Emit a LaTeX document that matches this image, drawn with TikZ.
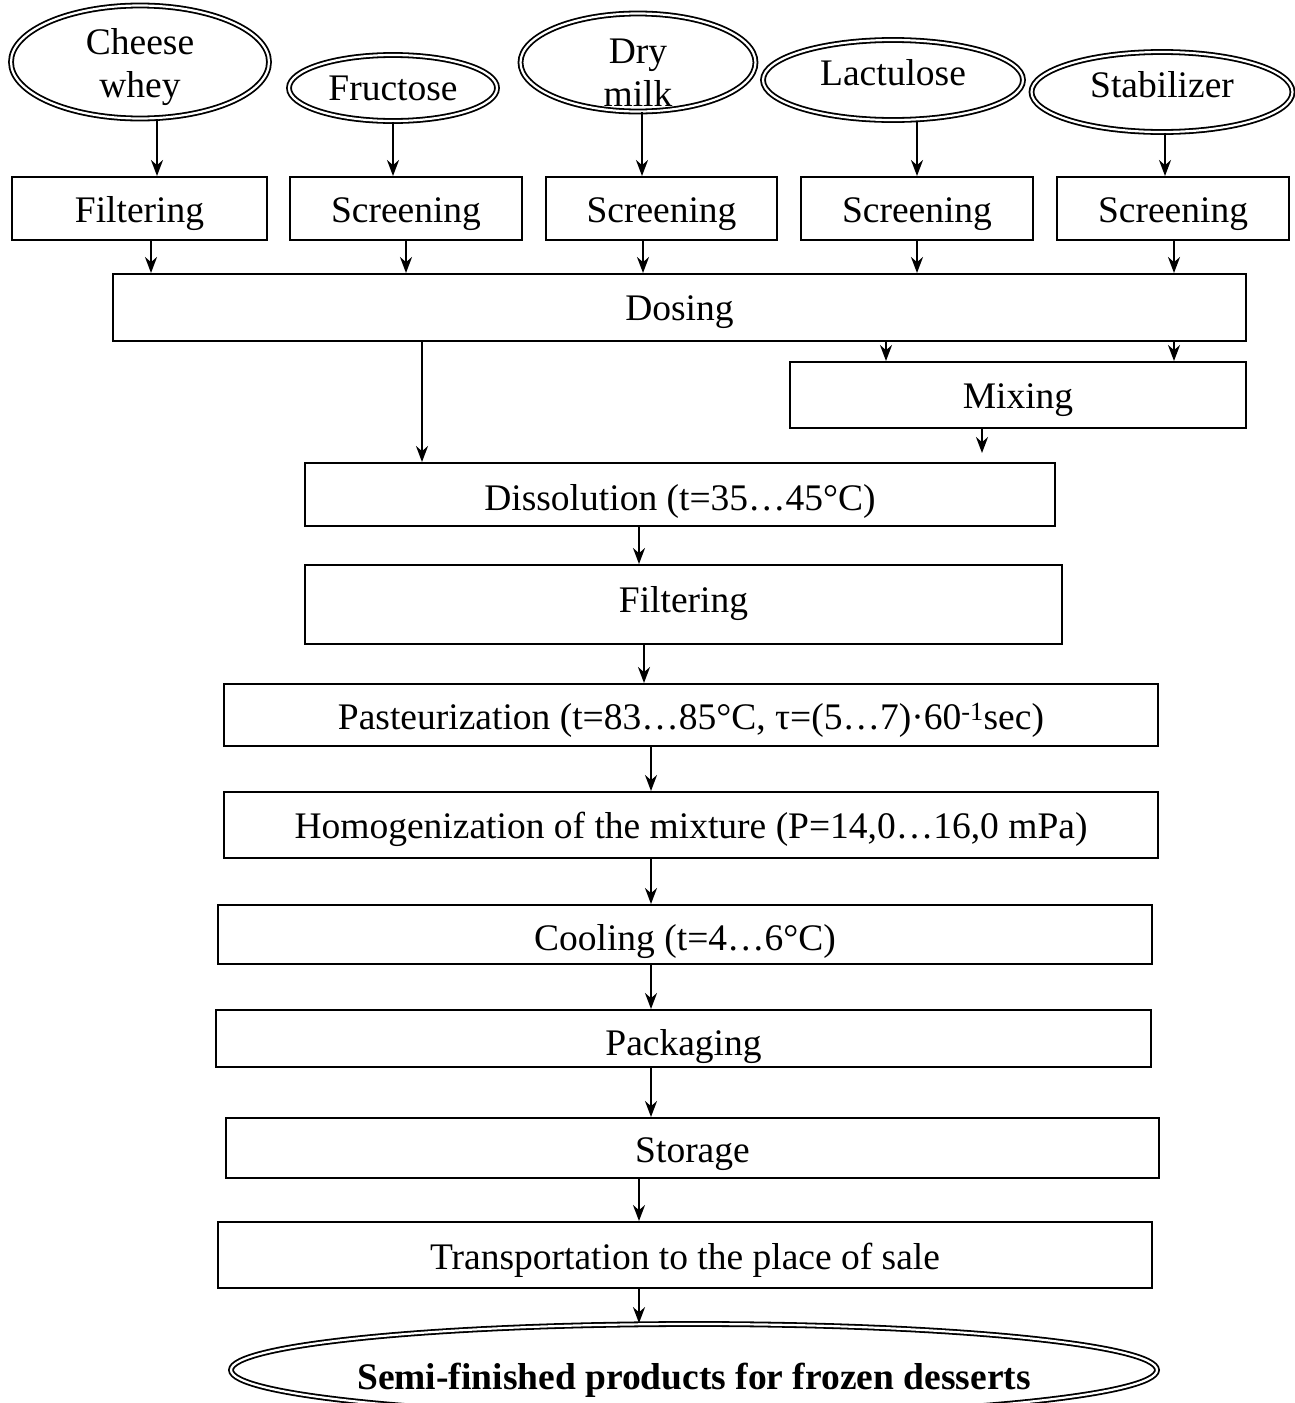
\documentclass[tikz,border=0pt]{standalone}
\usepackage{fontspec}
\setmainfont{Liberation Serif}
\usetikzlibrary{shapes, arrows.meta, positioning, calc}

\tikzset{
  source/.style = {ellipse, draw, double, double distance = 2.2pt, line width = 1.8pt, inner sep = 0pt, align = center},
  stage/.style = {rectangle, draw, line width = 2pt, inner sep = 0pt, align = center, text height = 27pt, text depth = 0pt},
  flow/.style = {-{Stealth[length = 16pt, width = 12pt]}, line width = 2.2pt},
}

\begin{document}
\begin{tikzpicture}[x = 1pt, y = -1pt]
\fontsize{37.5}{43}\selectfont
\useasboundingbox (0, 0) rectangle (1295, 1403);

% raw materials
\node (whey) [source, inner ysep = -15pt, minimum width = 258, minimum height = 113, text height = 70pt, text depth = 0pt] at (140, 62) {Cheese\\whey};
\node (fruct) [source, minimum width = 208, minimum height = 66] at (393, 88) {Fructose};
\node (milk) [source, inner ysep = -25pt, minimum width = 235, minimum height = 98, text height = 87pt, text depth = 0pt] at (638, 62.5) {Dry\\milk};
\node (lact) [source, minimum width = 260, minimum height = 80, text height = 10pt, text depth = 0pt] at (893, 80) {Lactulose};
\node (stab) [source, minimum width = 261, minimum height = 80, text height = 10pt, text depth = 0pt] at (1162, 92) {Stabilizer};

% preparation
\node (filt) [stage, minimum width = 255, minimum height = 63] at (139.5, 208.5) {Filtering};
\node (scr1) [stage, minimum width = 232, minimum height = 63] at (406, 208.5) {Screening};
\node (scr2) [stage, minimum width = 231, minimum height = 63] at (661.5, 208.5) {Screening};
\node (scr3) [stage, minimum width = 232, minimum height = 63] at (917, 208.5) {Screening};
\node (scr4) [stage, minimum width = 232, minimum height = 63] at (1173, 208.5) {Screening};

\foreach \a/\b/\x in {whey/filt/157, fruct/scr1/393, milk/scr2/642, lact/scr3/917, stab/scr4/1165}
  \draw[flow] (\a.south -| \x,0) -- (\b.north -| \x,0);

\node (dosing) [stage, minimum width = 1133, minimum height = 67, text height = 25pt] at (679.5, 307.5) {Dosing};

\foreach \a/\x in {filt/151, scr1/406, scr2/643, scr3/917, scr4/1174}
  \draw[flow] (\a.south -| \x,0) -- (dosing.north -| \x,0);

\node (mixing) [stage, minimum width = 456, minimum height = 66] at (1018, 395) {Mixing};
\node (diss) [stage, minimum width = 750, minimum height = 63, text height = 31pt] at (680, 494.5) {Dissolution (t=35…45°C)};

\draw[flow] (dosing.south -| 886,0) -- (mixing.north -| 886,0);
\draw[flow] (dosing.south -| 1174,0) -- (mixing.north -| 1174,0);
\draw[flow] (dosing.south -| 422,0) -- (diss.north -| 422,0);
\draw[flow, shorten >= 9pt] (mixing.south -| 982,0) -- (diss.north -| 982,0);

% processing line
\node (filtb) [stage, minimum width = 757, minimum height = 79, text height = 16pt] at (683.5, 604.5) {Filtering};
\node (past) [stage, minimum width = 934, minimum height = 62, text height = 29pt] at (691, 715) {Pasteurization (t=83…85°C, τ=(5…7)·60\textsuperscript{-1}sec)};
\node (homog) [stage, minimum width = 934, minimum height = 66, text height = 27pt] at (691, 825) {Homogenization of the mixture (P=14,0…16,0 mPa)};
\node (cool) [stage, minimum width = 934, minimum height = 59, text height = 31pt] at (685, 934.5) {Cooling (t=4…6°C)};
\node (pack) [stage, minimum width = 935, minimum height = 57, text height = 34pt] at (683.5, 1038.5) {Packaging};
\node (stor) [stage, minimum width = 933, minimum height = 60, text height = 29pt] at (692.5, 1148) {Storage};
\node (trans) [stage, minimum width = 934, minimum height = 66, text height = 29pt] at (685, 1255) {Transportation to the place of sale};
\node (prod) [source, inner xsep = -30pt, minimum width = 926, minimum height = 92, text height = 39pt, text depth = 0pt] at (694, 1370) {\bfseries Semi-finished products for frozen desserts};

\foreach \a/\b/\x in {diss/filtb/639, filtb/past/644, past/homog/651, homog/cool/651, cool/pack/651, pack/stor/651, stor/trans/639, trans/prod/639}
  \draw[flow] (\a.south -| \x,0) -- (\b.north -| \x,0);

\end{tikzpicture}
\end{document}
